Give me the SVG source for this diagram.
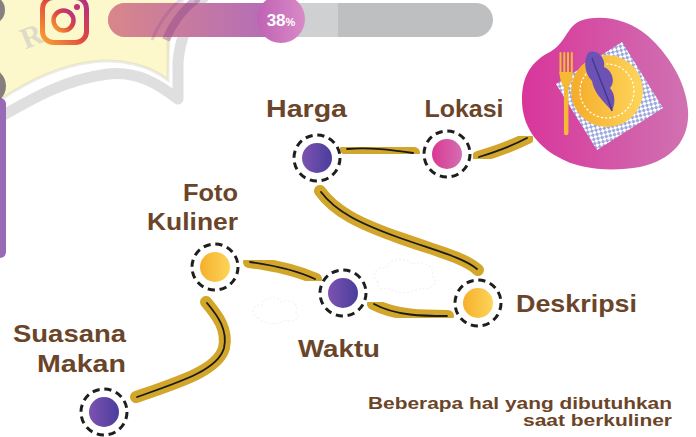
<svg xmlns="http://www.w3.org/2000/svg" width="696" height="437" viewBox="0 0 696 437">
  <style>
    .label { font-family: "Liberation Sans", "DejaVu Sans", sans-serif; font-weight: bold; font-size: 24px; fill: #6b4529; }
    .note { font-family: "Liberation Sans", "DejaVu Sans", sans-serif; font-weight: bold; font-size: 16px; fill: #6b4529; }
    .ring { fill: none; stroke: #1e1e1e; stroke-width: 3; stroke-dasharray: 7.2 4.8; }
    .band { fill: none; stroke: #d1a62a; stroke-width: 12; stroke-linecap: round; filter: url(#soft); }
    .core { fill: none; stroke: #1a1a1a; stroke-width: 1.8; stroke-linecap: round; }
    .cloud { fill: none; stroke: #f1f1f1; stroke-width: 1.1; stroke-dasharray: 2 2; }
  </style>
  <defs>
    <filter id="soft" x="-10%" y="-10%" width="120%" height="120%">
      <feGaussianBlur stdDeviation="0.7"/>
    </filter>
    <linearGradient id="gPurple" x1="0" y1="0" x2="1" y2="0">
      <stop offset="0" stop-color="#7d52b1"/>
      <stop offset="1" stop-color="#4a3d9c"/>
    </linearGradient>
    <linearGradient id="gPink" x1="0" y1="0" x2="1" y2="0">
      <stop offset="0" stop-color="#da3993"/>
      <stop offset="1" stop-color="#d46eb1"/>
    </linearGradient>
    <linearGradient id="gYellow" x1="0" y1="0" x2="1" y2="0">
      <stop offset="0" stop-color="#f6b02c"/>
      <stop offset="1" stop-color="#fdd45a"/>
    </linearGradient>
    <linearGradient id="gBar" x1="0" y1="0" x2="1" y2="0">
      <stop offset="0" stop-color="#d9868a"/>
      <stop offset="1" stop-color="#b16cba"/>
    </linearGradient>
    <linearGradient id="gKnob" x1="0" y1="0" x2="1" y2="0">
      <stop offset="0" stop-color="#bf62b4"/>
      <stop offset="1" stop-color="#d98ac6"/>
    </linearGradient>
    <linearGradient id="gInsta" x1="0" y1="1" x2="1" y2="0">
      <stop offset="0" stop-color="#f9a233"/>
      <stop offset="0.5" stop-color="#e0473f"/>
      <stop offset="1" stop-color="#b02d8c"/>
    </linearGradient>
    <linearGradient id="gBlob" x1="0" y1="0" x2="1" y2="0">
      <stop offset="0" stop-color="#d8359a"/>
      <stop offset="1" stop-color="#d072b2"/>
    </linearGradient>
    <linearGradient id="gPlate" x1="0" y1="0" x2="1" y2="0">
      <stop offset="0" stop-color="#f4ac2a"/>
      <stop offset="1" stop-color="#fdd65c"/>
    </linearGradient>
    <pattern id="checks" width="6" height="6" patternUnits="userSpaceOnUse" patternTransform="rotate(32)">
      <rect width="6" height="6" fill="#ffffff"/>
      <rect width="3" height="3" fill="#9eaade"/>
      <rect x="3" y="3" width="3" height="3" fill="#9eaade"/>
    </pattern>
  </defs>

  <rect width="696" height="437" fill="#ffffff"/>

  <!-- header backdrop: pale yellow panel, watermark curve, side bar -->
  <g id="header-bg">
    <path d="M0 0 H176 C171 25 169 50 168 80 C150 66 122 58 92 62 C60 66 30 80 0 100 Z" fill="#fdf8cb"/>
    <path d="M-5 120 C30 100 62 80 108 74 C138 71 158 84 178 99 L178 62 C180 38 190 15 206 -6" fill="none" stroke="#b0b0b0" stroke-width="11" stroke-opacity="0.4" stroke-linejoin="round"/>
    <path d="M0 100 C30 80 60 66 92 62 C122 58 150 66 168 80 L168 40 C170 22 176 8 186 -4" fill="none" stroke="#b5b5b5" stroke-width="3" stroke-opacity="0.25"/>
    <text x="20" y="46" transform="rotate(-22 32 34)" font-family="Liberation Serif, serif" font-size="30" font-weight="bold" fill="#b8b8c4" fill-opacity="0.45">R</text>
    <circle cx="-10" cy="10" r="15" fill="#5e5866" fill-opacity="0.75"/>
    <rect x="-12" y="98" width="18" height="160" rx="6" fill="#9869b4"/>
    <circle cx="-12" cy="86" r="18" fill="#5f5567" fill-opacity="0.75"/>
  </g>

  <!-- social icon -->
  <g id="instagram">
    <rect x="42.5" y="-2.5" width="44" height="45" rx="11" fill="none" stroke="url(#gInsta)" stroke-width="5"/>
    <circle cx="63.5" cy="20.5" r="10" fill="none" stroke="url(#gInsta)" stroke-width="4.5"/>
    <circle cx="77" cy="7" r="3" fill="#c3307a"/>
  </g>

  <!-- progress bar -->
  <g id="progress">
    <rect x="108" y="3" width="385" height="34" rx="17" fill="#bebfc1"/>
    <rect x="270" y="3" width="68" height="34" fill="#cfd0d2"/>
    <path d="M125 3 H280 V37 H125 A17 17 0 0 1 125 3 Z" fill="url(#gBar)"/>
    <path d="M166 40 C172 25 182 10 198 -2" fill="none" stroke="#7a3c86" stroke-width="8" stroke-opacity="0.35"/>
    <path d="M152 40 C158 25 168 10 182 -2" fill="none" stroke="#7a3c86" stroke-width="3" stroke-opacity="0.2"/>
    <circle cx="281" cy="19" r="24" fill="url(#gKnob)"/>
    <text x="281" y="25.5" text-anchor="middle" font-family="Liberation Sans, sans-serif" font-weight="bold" font-size="17" fill="#ffffff">38<tspan font-size="11">%</tspan></text>
  </g>

  <!-- plate illustration -->
  <g id="plate">
    <path d="M580 21 C598 14 628 18 648 36 C666 52 686 80 688 110 C690 140 672 160 640 167 C612 172 580 170 558 157 C536 145 522 125 522 100 C522 80 528 64 548 53 C566 44 566 27 580 21 Z" fill="url(#gBlob)"/>
    <path d="M622 42 L663 108 L597 150 L556 84 Z" fill="url(#checks)"/>
    <circle cx="607" cy="91" r="36" fill="url(#gPlate)"/>
    <circle cx="607" cy="91" r="27" fill="none" stroke="#ffffff" stroke-width="1.2" stroke-dasharray="2.2 2"/>
    <path d="M589 52 C599 49 606 60 604 67 C612 70 616 82 610 88 C616 95 615 104 612 111 C603 101 594 93 592 81 C584 73 583 58 589 52 Z" fill="#6d52b5"/>
    <path d="M592 58 C598 75 606 92 612 111" fill="none" stroke="#45378f" stroke-width="1.4"/>
    <g stroke="#f6b935" stroke-linecap="round">
      <line x1="560.5" y1="53" x2="560.5" y2="74" stroke-width="2"/>
      <line x1="564.3" y1="53" x2="564.3" y2="74" stroke-width="2"/>
      <line x1="568" y1="53" x2="568" y2="74" stroke-width="2"/>
      <line x1="571.8" y1="53" x2="571.8" y2="74" stroke-width="2"/>
      <line x1="566.2" y1="86" x2="566.2" y2="133" stroke-width="4.5"/>
    </g>
    <path d="M559.5 72 H572.8 C572.8 80 570 85 568 88 H564.4 C562.4 85 559.5 80 559.5 72 Z" fill="#f6b935"/>
  </g>

  <!-- faint background doodles -->
  <path class="cloud" d="M258 318 C250 314 252 304 262 305 C264 296 278 295 281 302 C290 298 300 304 296 312 C302 318 292 324 284 320 C278 326 264 324 258 318 Z"/>
  <path class="cloud" d="M378 282 C370 276 376 266 386 268 C390 258 406 256 412 264 C422 260 436 266 432 276 C440 282 430 292 420 288 C412 294 394 294 388 288 C382 290 376 288 378 282 Z"/>

  <!-- connectors -->
  <g id="connectors">
    <path class="band" d="M346 149 C370 147 392 150 414 153"/>
    <path class="core" d="M347 149 C370 147 392 150 413 153"/>
    <path class="band" d="M478 157 C495 152 512 146 528 138"/>
    <path class="core" d="M479 157 C495 152 512 146 527 138"/>
    <path class="band" d="M320 191 C335 212 360 224 400 238 C440 252 465 258 478 270"/>
    <path class="core" d="M321 192 C336 212 361 224 400 238 C440 252 464 258 477 269"/>
    <path class="band" d="M249 262 C272 265 296 270 316 279"/>
    <path class="core" d="M250 262 C272 265 296 270 315 279"/>
    <path class="band" d="M373 304 C396 316 424 316 448 316"/>
    <path class="core" d="M374 304 C396 316 424 316 447 316"/>
    <path class="band" d="M206 302 C218 316 228 330 224 348 C218 370 180 382 136 397"/>
    <path class="core" d="M207 303 C218 316 228 330 224 348 C218 370 180 382 137 397"/>
  </g>

  <!-- nodes -->
  <g id="node-harga">
    <circle cx="317" cy="158" r="15" fill="url(#gPurple)"/>
    <circle class="ring" cx="317" cy="158" r="23"/>
    <text class="label" x="306.5" y="117" text-anchor="middle" textLength="81" lengthAdjust="spacingAndGlyphs">Harga</text>
  </g>
  <g id="node-lokasi">
    <circle cx="447" cy="154" r="15" fill="url(#gPink)"/>
    <circle class="ring" cx="447" cy="154" r="23"/>
    <text class="label" x="464" y="117" text-anchor="middle" textLength="79" lengthAdjust="spacingAndGlyphs">Lokasi</text>
  </g>
  <g id="node-foto-kuliner">
    <circle cx="215" cy="267" r="15" fill="url(#gYellow)"/>
    <circle class="ring" cx="215" cy="267" r="23"/>
    <text class="label" x="210.5" y="201" text-anchor="middle" textLength="55" lengthAdjust="spacingAndGlyphs">Foto</text>
    <text class="label" x="192.5" y="230" text-anchor="middle" textLength="91" lengthAdjust="spacingAndGlyphs">Kuliner</text>
  </g>
  <g id="node-waktu">
    <circle cx="343" cy="293" r="15" fill="url(#gPurple)"/>
    <circle class="ring" cx="343" cy="293" r="23"/>
    <text class="label" x="339" y="357" text-anchor="middle" textLength="82" lengthAdjust="spacingAndGlyphs">Waktu</text>
  </g>
  <g id="node-deskripsi">
    <circle cx="478" cy="303" r="15" fill="url(#gYellow)"/>
    <circle class="ring" cx="478" cy="303" r="23"/>
    <text class="label" x="576.5" y="312" text-anchor="middle" textLength="121" lengthAdjust="spacingAndGlyphs">Deskripsi</text>
  </g>
  <g id="node-suasana-makan">
    <circle cx="104" cy="412" r="15" fill="url(#gPurple)"/>
    <circle class="ring" cx="104" cy="412" r="23"/>
    <text class="label" x="69.5" y="342" text-anchor="middle" textLength="113" lengthAdjust="spacingAndGlyphs">Suasana</text>
    <text class="label" x="81.5" y="372" text-anchor="middle" textLength="89" lengthAdjust="spacingAndGlyphs">Makan</text>
  </g>

  <!-- caption -->
  <g id="caption">
    <text class="note" x="672" y="409" text-anchor="end" textLength="304" lengthAdjust="spacingAndGlyphs">Beberapa hal yang dibutuhkan</text>
    <text class="note" x="672" y="426" text-anchor="end" textLength="149" lengthAdjust="spacingAndGlyphs">saat berkuliner</text>
  </g>
</svg>
